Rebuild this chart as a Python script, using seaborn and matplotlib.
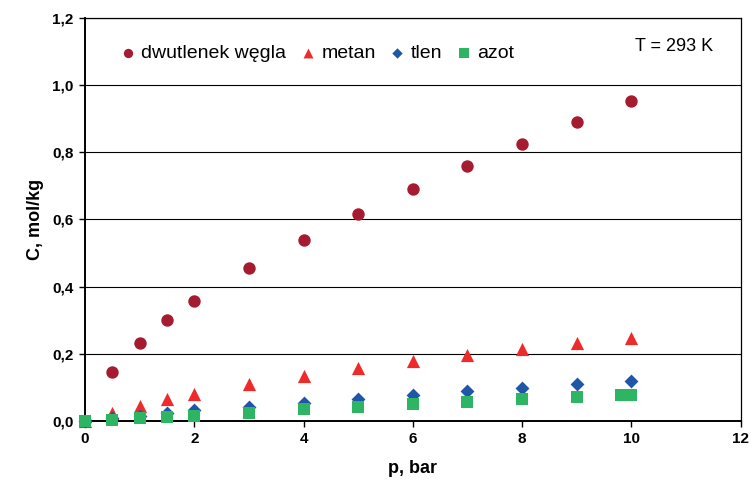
import matplotlib
matplotlib.use("Agg")
import matplotlib.pyplot as plt
import seaborn as sns
import pandas as pd
from matplotlib.ticker import FuncFormatter, MultipleLocator

# Sorption isotherms at 293 K
p_bar = [0, 0.5, 1, 1.5, 2, 3, 4, 5, 6, 7, 8, 9, 10]
co2 = [0.0, 0.145, 0.233, 0.300, 0.357, 0.455, 0.540, 0.615, 0.692, 0.758, 0.825, 0.890, 0.952]
metan = [0.0, 0.025, 0.045, 0.065, 0.080, 0.110, 0.135, 0.158, 0.178, 0.197, 0.215, 0.231, 0.247]
tlen = [0.0, 0.008, 0.015, 0.024, 0.032, 0.042, 0.053, 0.065, 0.077, 0.089, 0.099, 0.110, 0.119]
p_azot = [0, 0.5, 1, 1.5, 2, 3, 4, 5, 6, 7, 8, 9, 9.8, 10]
azot = [0.0, 0.004, 0.008, 0.012, 0.016, 0.025, 0.035, 0.042, 0.050, 0.057, 0.065, 0.071, 0.077, 0.077]

series_names = ["dwutlenek węgla", "metan", "tlen", "azot"]
colors = {"dwutlenek węgla": "#A51C30", "metan": "#EE2A2A", "tlen": "#1F56A8", "azot": "#2DB563"}
markers = {"dwutlenek węgla": "o", "metan": "^", "tlen": "D", "azot": "s"}
sizes = {"dwutlenek węgla": 80, "metan": 90, "tlen": 50, "azot": 80}

frames = []
for name, xs, ys in [("dwutlenek węgla", p_bar, co2), ("metan", p_bar, metan),
                     ("tlen", p_bar, tlen), ("azot", p_azot, azot)]:
    frames.append(pd.DataFrame({"p": xs, "C": ys, "gaz": name}))
df = pd.concat(frames, ignore_index=True)

sns.set_theme(style="white")
plt.rcParams["font.family"] = ["Liberation Sans", "DejaVu Sans"]

fig = plt.figure(figsize=(7.52, 4.84), dpi=100)
ax = fig.add_axes([0.113, 0.130, 0.872, 0.833])

for name in series_names:
    sub = df[df["gaz"] == name]
    sns.scatterplot(data=sub, x="p", y="C", ax=ax, color=colors[name],
                    marker=markers[name], s=sizes[name], linewidth=0,
                    label=name, zorder=3, clip_on=False)

ax.set_xlim(0, 12)
ax.set_ylim(0, 1.2)
ax.xaxis.set_major_locator(MultipleLocator(2))
ax.yaxis.set_major_locator(MultipleLocator(0.2))
ax.xaxis.set_major_formatter(FuncFormatter(lambda v, _: f"{v:.0f}"))
ax.yaxis.set_major_formatter(FuncFormatter(lambda v, _: f"{v:.1f}".replace(".", ",")))

ax.yaxis.grid(True, color="black", linewidth=0.8)
ax.xaxis.grid(False)
ax.set_axisbelow(True)

for side in ["left", "bottom"]:
    ax.spines[side].set_color("black")
    ax.spines[side].set_linewidth(1.4)
for side in ["top", "right"]:
    ax.spines[side].set_color("black")
    ax.spines[side].set_linewidth(0.9)

ax.tick_params(axis="both", which="major", direction="out", length=4, width=1,
               color="black", labelsize=11, labelcolor="black", pad=4,
               bottom=True, left=True)
for lab in ax.get_xticklabels() + ax.get_yticklabels():
    lab.set_fontweight("bold")

ax.set_xlabel("p, bar", fontsize=13, fontweight="bold", color="black", labelpad=10)
ax.set_ylabel("C, mol/kg", fontsize=13, fontweight="bold", color="black", labelpad=6)

ax.text(0.958, 0.928, "T = 293 K", transform=ax.transAxes, ha="right", va="center",
        fontsize=13, color="black")

leg = ax.legend(loc="center left", bbox_to_anchor=(0.055, 0.912), ncol=4, frameon=False,
                fontsize=14, handlelength=0.7, handletextpad=0.35, columnspacing=0.75,
                markerscale=0.75, borderaxespad=0, borderpad=0)
for t in leg.get_texts():
    t.set_color("black")

fig.savefig("out.png", dpi=100)
